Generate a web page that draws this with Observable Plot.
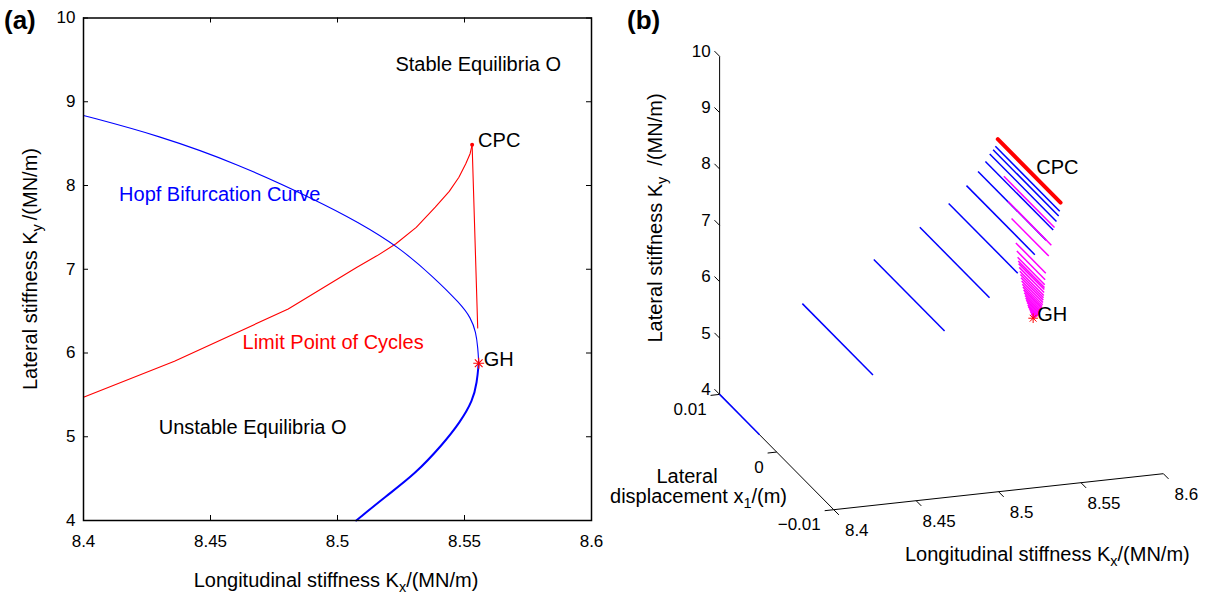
<!DOCTYPE html>
<html><head><meta charset="utf-8">
<script src="https://cdn.jsdelivr.net/npm/d3@7"></script>
<script src="https://cdn.jsdelivr.net/npm/@observablehq/plot@0.6"></script>
<style>
html,body{margin:0;padding:0;background:#fff;}
#wrap{position:relative;width:1211px;height:595px;overflow:hidden;background:#fff;}
#wrap > svg{position:absolute;top:0;}
</style></head><body><div id="wrap"></div>
<script>
// ---------------- data ----------------
const kxTicks = [8.4, 8.45, 8.5, 8.55, 8.6];
const kxTickLabels = ["8.4", "8.45", "8.5", "8.55", "8.6"];
const kyTicks = [4, 5, 6, 7, 8, 9, 10];
const kyTickLabels = ["4", "5", "6", "7", "8", "9", "10"];
const x1Ticks = [0.01, 0, -0.01];
const x1TickLabels = ["0.01", "0", "\u22120.01"];

// (a) Hopf bifurcation curve (upper thin part, lower thick part)
const hopfUpperKx = [8.4000, 8.4296, 8.4607, 8.4918, 8.5080, 8.5240, 8.5379, 8.5484, 8.5525, 8.5545, 8.5553, 8.5556];
const hopfUpperKy = [8.836, 8.597, 8.259, 7.821, 7.565, 7.270, 6.905, 6.587, 6.420, 6.250, 6.050, 5.878];
const hopfLowerKx = [8.5556, 8.5549, 8.5533, 8.5482, 8.5416, 8.5307, 8.5189, 8.5074];
const hopfLowerKy = [5.878, 5.648, 5.433, 5.170, 4.916, 4.558, 4.287, 4.000];
// (a) Limit point of cycles curve
const lpcKx = [8.4000, 8.4358, 8.4806, 8.5075, 8.5155, 8.5230, 8.5310, 8.5385, 8.5440, 8.5478, 8.5505, 8.5522, 8.5530];
const lpcKy = [5.472, 5.902, 6.525, 7.022, 7.160, 7.304, 7.500, 7.741, 7.930, 8.099, 8.260, 8.380, 8.486];
const lpc2Kx = [8.5530, 8.5552];
const lpc2Ky = [8.486, 6.300];
const cpcKx = [8.5530], cpcKy = [8.486];
const ghKx = [8.5556], ghKy = [5.878];

const blackNotes = ["Stable Equilibria O", "Unstable Equilibria O"];
const blackNotesKx = [8.5228, 8.4296];
const blackNotesKy = [9.445, 5.114];
const blueNotes = ["Hopf Bifurcation Curve"];
const blueNotesKx = [8.4140], blueNotesKy = [7.889];
const redNotes = ["Limit Point of Cycles"];
const redNotesKx = [8.4626], redNotesKy = [6.122];

// (b) limit cycles: stable branch (blue), CPC cycle (red), unstable branch (magenta)
const cycKx = [8.4370, 8.4804, 8.5080, 8.5253, 8.5359, 8.5428, 8.5472, 8.5495, 8.5512, 8.5522];
const cycKy = [5.883, 6.525, 7.019, 7.393, 7.681, 7.914, 8.078, 8.214, 8.293, 8.364];
const cycAmp = [0.00619, 0.00620, 0.00611, 0.00605, 0.00599, 0.00596, 0.00594, 0.00585, 0.00575, 0.00564];
const cornerKx = [8.4], cornerKy = [4], cornerX1From = [0.01], cornerX1To = [0.003];
const cpcCycKx = [8.5532], cpcCycKy = [8.50], cpcCycAmp = [0.0055];
const magKx = [8.5532, 8.5535, 8.5538, 8.5542, 8.5543, 8.5544, 8.5545,
  8.5546, 8.5547, 8.5548, 8.5549, 8.5550, 8.5551, 8.5552, 8.5552, 8.5553, 8.5553, 8.5554, 8.5554,
  8.5554, 8.5555, 8.5555, 8.5555, 8.5556, 8.5556, 8.5556, 8.5556, 8.5556, 8.5556];
const magKy = [7.95, 7.57, 7.32, 6.95, 6.82, 6.72, 6.66,
  6.62, 6.56, 6.50, 6.45, 6.40, 6.35, 6.30, 6.26, 6.22, 6.18, 6.14, 6.11,
  6.08, 6.05, 6.02, 6.00, 5.98, 5.96, 5.94, 5.92, 5.905, 5.89];
const magAmp = [0.00444, 0.00380, 0.00326, 0.00262, 0.00248, 0.00238, 0.00230,
  0.00225, 0.00218, 0.00210, 0.00202, 0.00195, 0.00187, 0.00178, 0.00168, 0.00158, 0.00148, 0.00137, 0.00126,
  0.00115, 0.00104, 0.00092, 0.00082, 0.00070, 0.00058, 0.00046, 0.00034, 0.00022, 0.00010];
const ghPointKx = [8.5556], ghPointX1 = [0], ghPointKy = [5.878];

// ---------------- style / layout ----------------
const FONT = '"Liberation Sans", Arial, Helvetica, sans-serif';
const RED = "#ff0000", BLUE = "#0000ff", MAGENTA = "#ff00ff";
const wrap = document.getElementById("wrap");

// ---------------- panel (a) ----------------
const A = {w: 610, h: 595, ml: 83, mr: 19, mt: 17.5, mb: 75};
const fw = A.w - A.ml - A.mr, fh = A.h - A.mt - A.mb;
const idx = (arr) => arr.map((_, i) => i);

const plotA = Plot.plot({
  width: A.w, height: A.h,
  marginLeft: A.ml, marginRight: A.mr, marginTop: A.mt, marginBottom: A.mb,
  style: {fontFamily: FONT, fontSize: "17px", background: "transparent", color: "black", overflow: "visible"},
  x: {domain: [8.4, 8.6], axis: null},
  y: {domain: [4, 10], axis: null},
  marks: [
    Plot.line(idx(lpcKx), {x: lpcKx, y: lpcKy, stroke: RED, strokeWidth: 1.1}),
    Plot.line(idx(lpc2Kx), {x: lpc2Kx, y: lpc2Ky, stroke: RED, strokeWidth: 1.1}),
    Plot.line(idx(hopfUpperKx), {x: hopfUpperKx, y: hopfUpperKy, stroke: BLUE, strokeWidth: 1.1, curve: "basis"}),
    Plot.line(idx(hopfLowerKx), {x: hopfLowerKx, y: hopfLowerKy, stroke: BLUE, strokeWidth: 2, curve: "basis"}),
    Plot.dot(idx(cpcKx), {x: cpcKx, y: cpcKy, r: 2, fill: RED}),
    Plot.dot(idx(ghKx), {x: ghKx, y: ghKy, r: 3.6, symbol: "plus", stroke: RED, strokeWidth: 1.1}),
    Plot.dot(idx(ghKx), {x: ghKx, y: ghKy, r: 3.6, symbol: "times", stroke: RED, strokeWidth: 1.1}),
    Plot.text(["CPC"], {x: cpcKx, y: cpcKy, text: d => d, textAnchor: "start", dx: 6, dy: -4, fontSize: 20, fill: "black"}),
    Plot.text(["GH"], {x: ghKx, y: ghKy, text: d => d, textAnchor: "start", dx: 5, dy: -4, fontSize: 20, fill: "black"}),
    Plot.text(blackNotes, {x: blackNotesKx, y: blackNotesKy, text: d => d, textAnchor: "start", fontSize: 20, fill: "black"}),
    Plot.text(blueNotes, {x: blueNotesKx, y: blueNotesKy, text: d => d, textAnchor: "start", fontSize: 20, fill: BLUE}),
    Plot.text(redNotes, {x: redNotesKx, y: redNotesKy, text: d => d, textAnchor: "start", fontSize: 20, fill: RED}),
    Plot.tickX(kxTicks, {x: d => d, insetTop: fh - 5, stroke: "black", strokeWidth: 1}),
    Plot.tickX(kxTicks, {x: d => d, insetBottom: fh - 5, stroke: "black", strokeWidth: 1}),
    Plot.tickY(kyTicks, {y: d => d, insetRight: fw - 5, stroke: "black", strokeWidth: 1}),
    Plot.tickY(kyTicks, {y: d => d, insetLeft: fw - 5, stroke: "black", strokeWidth: 1}),
    Plot.axisX({ticks: kxTicks, tickFormat: d => kxTickLabels[kxTicks.indexOf(d)], tickSize: 0, tickPadding: 14, fontSize: 17, label: null}),
    Plot.axisY({ticks: kyTicks, tickFormat: d => kyTickLabels[kyTicks.indexOf(d)], tickSize: 0, tickPadding: 8, fontSize: 17, label: null}),
    Plot.frame({stroke: "black", strokeWidth: 1.5})
  ]
});
plotA.style.left = "0px";
wrap.appendChild(plotA);

// ---------------- panel (b): 3-D view projected through Plot scales ----------------
const KX_LIM = [8.4, 8.6], X1_LIM = [-0.01, 0.01], KY_LIM = [4, 10];
const VIEW = {az: -18.2, el: 19.4, aspect: [1, 1.053, 1.033], S: 347, cx: 331, cy: 264.5};
const B = {w: 601, h: 595, left: 610};
function proj(kx, x1, ky) {
  const az = VIEW.az * Math.PI / 180, el = VIEW.el * Math.PI / 180;
  const X = ((kx - KX_LIM[0]) / (KX_LIM[1] - KX_LIM[0]) - 0.5) * VIEW.aspect[0];
  const Y = ((x1 - X1_LIM[0]) / (X1_LIM[1] - X1_LIM[0]) - 0.5) * VIEW.aspect[1];
  const Z = ((ky - KY_LIM[0]) / (KY_LIM[1] - KY_LIM[0]) - 0.5) * VIEW.aspect[2];
  return [Math.cos(az) * X + Math.sin(az) * Y,
          -Math.sin(el) * Math.sin(az) * X + Math.sin(el) * Math.cos(az) * Y + Math.cos(el) * Z];
}
function seg(kx1, x11, ky1, kx2, x12, ky2) { return {a: proj(kx1, x11, ky1), b: proj(kx2, x12, ky2)}; }
const linkOpts = (extra) => Object.assign({x1: d => d.a[0], y1: d => d.a[1], x2: d => d.b[0], y2: d => d.b[1]}, extra);

const axisSegs = [
  seg(KX_LIM[0], X1_LIM[1], KY_LIM[0], KX_LIM[0], X1_LIM[1], KY_LIM[1]),
  seg(KX_LIM[0], X1_LIM[1], KY_LIM[0], KX_LIM[0], X1_LIM[0], KY_LIM[0]),
  seg(KX_LIM[0], X1_LIM[0], KY_LIM[0], KX_LIM[1], X1_LIM[0], KY_LIM[0])
];
const kyTickSegs = kyTicks.map(k => seg(KX_LIM[0], X1_LIM[1], k, KX_LIM[0], X1_LIM[1] + 0.0009, k));
const x1TickSegs = x1Ticks.map(v => seg(KX_LIM[0], v, KY_LIM[0], KX_LIM[0] - 0.0055, v, KY_LIM[0]));
const kxTickSegs = kxTicks.map(k => seg(k, X1_LIM[0], KY_LIM[0], k, X1_LIM[0] - 0.0009, KY_LIM[0]));

const blueSegs = cycKx.map((k, i) => seg(k, cycAmp[i], cycKy[i], k, -cycAmp[i], cycKy[i]))
  .concat(cornerKx.map((k, i) => seg(k, cornerX1From[i], cornerKy[i], k, cornerX1To[i], cornerKy[i])));
const magSegs = magKx.map((k, i) => seg(k, magAmp[i], magKy[i], k, -magAmp[i], magKy[i]));
const redSegs = cpcCycKx.map((k, i) => seg(k, cpcCycAmp[i], cpcCycKy[i], k, -cpcCycAmp[i], cpcCycKy[i]));
const ghP = ghPointKx.map((k, i) => proj(k, ghPointX1[i], ghPointKy[i]));
const cpcP = cpcCycKx.map((k, i) => proj(k, 0, cpcCycKy[i]));

const kyLab = kyTicks.map((k, i) => ({p: proj(KX_LIM[0], X1_LIM[1], k), t: kyTickLabels[i]}));
const x1Lab = x1Ticks.map((v, i) => ({p: proj(KX_LIM[0], v, KY_LIM[0]), t: x1TickLabels[i]}));
const kxLab = kxTicks.map((k, i) => ({p: proj(k, X1_LIM[0], KY_LIM[0]), t: kxTickLabels[i]}));

const plotB = Plot.plot({
  width: B.w, height: B.h, margin: 0,
  style: {fontFamily: FONT, fontSize: "17px", background: "transparent", color: "black", overflow: "visible"},
  x: {domain: [-VIEW.cx / VIEW.S, (B.w - VIEW.cx) / VIEW.S], range: [0, B.w], axis: null},
  y: {domain: [-(B.h - VIEW.cy) / VIEW.S, VIEW.cy / VIEW.S], range: [B.h, 0], axis: null},
  marks: [
    Plot.link(axisSegs, linkOpts({stroke: "black", strokeWidth: 1})),
    Plot.link(kyTickSegs, linkOpts({stroke: "black", strokeWidth: 1})),
    Plot.link(x1TickSegs, linkOpts({stroke: "black", strokeWidth: 1})),
    Plot.link(kxTickSegs, linkOpts({stroke: "black", strokeWidth: 1})),
    Plot.text(kyLab, {x: d => d.p[0], y: d => d.p[1], text: "t", textAnchor: "end", dx: -9, dy: -5, fontSize: 17}),
    Plot.text(x1Lab, {x: d => d.p[0], y: d => d.p[1], text: "t", textAnchor: "end", dx: -13, dy: 15, fontSize: 17}),
    Plot.text(kxLab, {x: d => d.p[0], y: d => d.p[1], text: "t", textAnchor: "middle", dx: 23, dy: 20.5, fontSize: 17}),
    Plot.link(blueSegs, linkOpts({stroke: BLUE, strokeWidth: 1.5})),
    Plot.link(magSegs, linkOpts({stroke: MAGENTA, strokeWidth: 1.5})),
    Plot.link(redSegs, linkOpts({stroke: RED, strokeWidth: 4, strokeLinecap: "round"})),
    Plot.dot(ghP, {x: d => d[0], y: d => d[1], r: 3.2, symbol: "plus", stroke: RED, strokeWidth: 1}),
    Plot.dot(ghP, {x: d => d[0], y: d => d[1], r: 3.2, symbol: "times", stroke: RED, strokeWidth: 1}),
    Plot.text(cpcP, {x: d => d[0], y: d => d[1], text: () => "CPC", textAnchor: "start", dx: 7, dy: -3, fontSize: 20}),
    Plot.text(ghP, {x: d => d[0], y: d => d[1], text: () => "GH", textAnchor: "start", dx: 4, dy: -4, fontSize: 20})
  ]
});
plotB.style.left = B.left + "px";
wrap.appendChild(plotB);

// ---------------- titles / axis labels (real text, with subscripts) ----------------
const ov = d3.create("svg").attr("width", 1211).attr("height", 595)
  .style("left", "0px").style("pointer-events", "none")
  .attr("font-family", FONT).attr("fill", "black");
function label(x, y, parts, {anchor = "middle", rotate = 0, size = 20, weight = "normal"} = {}) {
  const t = ov.append("text").attr("transform", `translate(${x},${y}) rotate(${rotate})`)
    .attr("text-anchor", anchor).attr("font-size", size).attr("font-weight", weight);
  let shift = 0;
  for (const p of parts) {
    if (typeof p === "string") {
      t.append("tspan").attr("dy", -shift).text(p); shift = 0;
    } else {
      t.append("tspan").attr("dy", 5 - shift).attr("font-size", size * 0.72).text(p.sub); shift = 5;
    }
  }
}
label(4, 29, ["(a)"], {anchor: "start", size: 26, weight: "bold"});
label(627, 29, ["(b)"], {anchor: "start", size: 26, weight: "bold"});
label(336, 587, ["Longitudinal stiffness K", {sub: "x"}, "/(MN/m)"]);
label(37, 269, ["Lateral stiffness K", {sub: "y"}, "\u2009/(MN/m)"], {rotate: -90});
label(662, 218, ["Lateral stiffness K", {sub: "y"}, "  /(MN/m)"], {rotate: -90});
label(687, 483, ["Lateral"]);
label(787, 503, ["displacement x", {sub: "1"}, "/(m)"], {anchor: "end"});
label(905, 561, ["Longitudinal stiffness K", {sub: "x"}, "/(MN/m)"], {anchor: "start"});
ov.selectAll("text").attr("xml:space", "preserve").style("white-space", "pre");
wrap.appendChild(ov.node());
</script></body></html>
